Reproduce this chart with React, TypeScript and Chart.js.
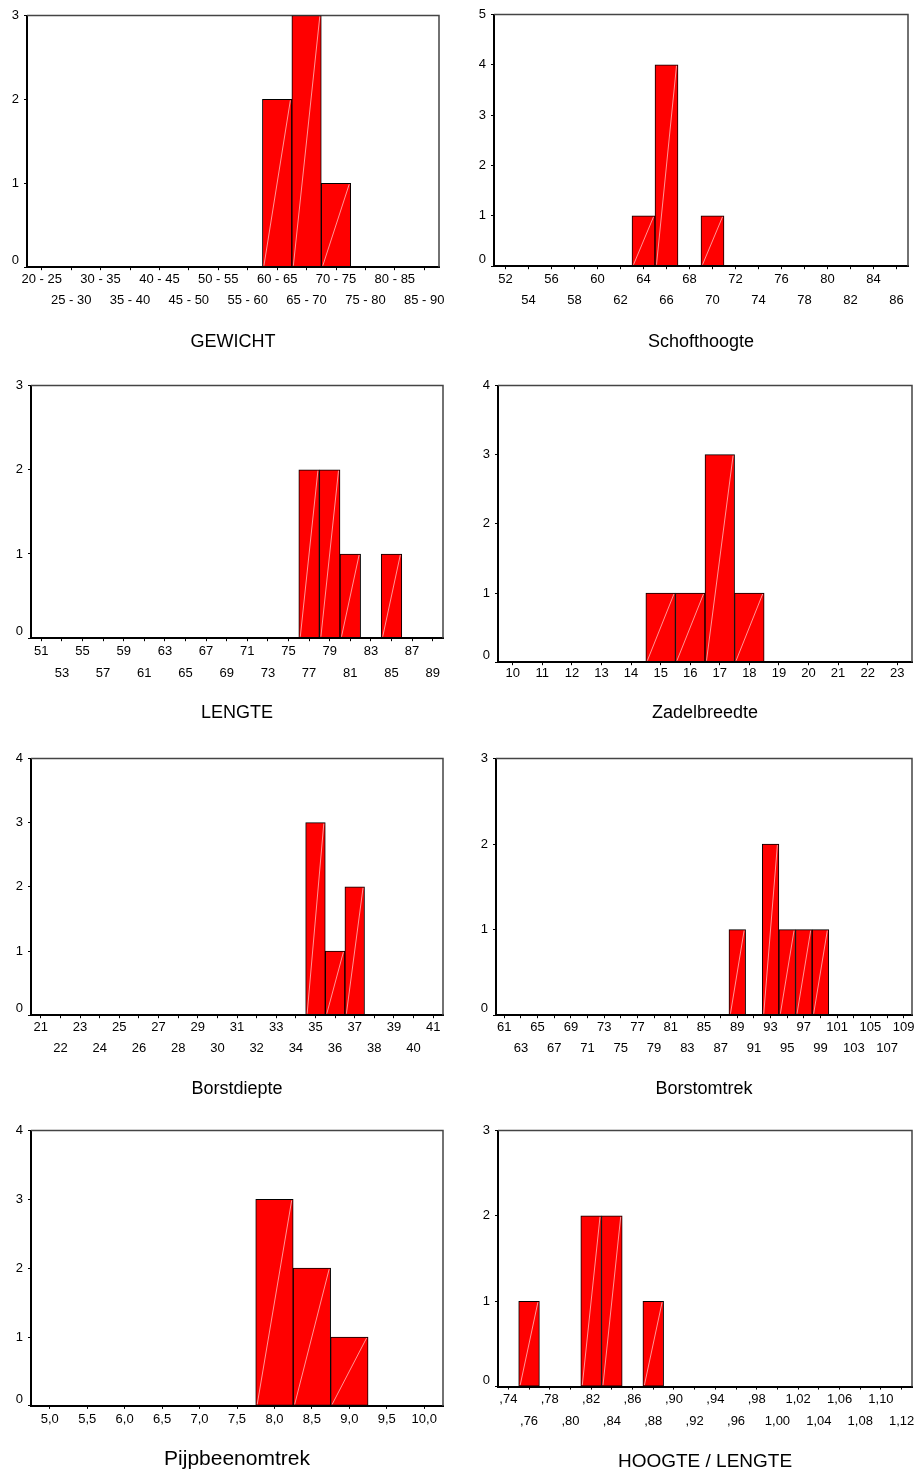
import React, { useEffect, useRef } from 'react';
import { Chart, registerables } from 'chart.js';

Chart.register(...registerables);
Chart.defaults.font.family = '"Liberation Sans", Arial, sans-serif';

// ---------- data ----------
const gewichtBins = ['20 - 25', '25 - 30', '30 - 35', '35 - 40', '40 - 45', '45 - 50', '50 - 55', '55 - 60', '60 - 65', '65 - 70', '70 - 75', '75 - 80', '80 - 85', '85 - 90'];
const gewichtCounts = [0, 0, 0, 0, 0, 0, 0, 0, 2, 3, 1, 0, 0, 0];

const schoftBins = ['52', '54', '56', '58', '60', '62', '64', '66', '68', '70', '72', '74', '76', '78', '80', '82', '84', '86'];
const schoftCounts = [0, 0, 0, 0, 0, 0, 1, 4, 0, 1, 0, 0, 0, 0, 0, 0, 0, 0];

const lengteBins = ['51', '53', '55', '57', '59', '61', '63', '65', '67', '69', '71', '73', '75', '77', '79', '81', '83', '85', '87', '89'];
const lengteCounts = [0, 0, 0, 0, 0, 0, 0, 0, 0, 0, 0, 0, 0, 2, 2, 1, 0, 1, 0, 0];

const zadelBins = ['10', '11', '12', '13', '14', '15', '16', '17', '18', '19', '20', '21', '22', '23'];
const zadelCounts = [0, 0, 0, 0, 0, 1, 1, 3, 1, 0, 0, 0, 0, 0];

const borstdiepteBins = ['21', '22', '23', '24', '25', '26', '27', '28', '29', '30', '31', '32', '33', '34', '35', '36', '37', '38', '39', '40', '41'];
const borstdiepteCounts = [0, 0, 0, 0, 0, 0, 0, 0, 0, 0, 0, 0, 0, 0, 3, 1, 2, 0, 0, 0, 0];

const borstomtrekBins = ['61', '63', '65', '67', '69', '71', '73', '75', '77', '79', '81', '83', '85', '87', '89', '91', '93', '95', '97', '99', '101', '103', '105', '107', '109'];
const borstomtrekCounts = [0, 0, 0, 0, 0, 0, 0, 0, 0, 0, 0, 0, 0, 0, 1, 0, 2, 1, 1, 1, 0, 0, 0, 0, 0];

const pijpBins = ['5,0', '5,5', '6,0', '6,5', '7,0', '7,5', '8,0', '8,5', '9,0', '9,5', '10,0'];
const pijpCounts = [0, 0, 0, 0, 0, 0, 3, 2, 1, 0, 0];

const hlBins = [',74', ',76', ',78', ',80', ',82', ',84', ',86', ',88', ',90', ',92', ',94', ',96', ',98', '1,00', '1,02', '1,04', '1,06', '1,08', '1,10', '1,12'];
const hlCounts = [0, 1, 0, 0, 2, 2, 0, 1, 0, 0, 0, 0, 0, 0, 0, 0, 0, 0, 0, 0];

const yMaxes = [3, 5, 3, 4, 4, 3, 4, 3];
const titles = ['GEWICHT', 'Schofthoogte', 'LENGTE', 'Zadelbreedte', 'Borstdiepte', 'Borstomtrek', 'Pijpbeenomtrek', 'HOOGTE / LENGTE'];

// ---------- layout (positions only) ----------
type Layout = { plot: [number, number, number, number]; stagger: boolean; xAxisH: number; tickPad: number; titleSize: number; titleY: number };
const layouts: Layout[] = [
  { plot: [27, 14, 439, 267], stagger: true, xAxisH: 42, tickPad: -1.75, titleSize: 18, titleY: 342 },
  { plot: [494, 13, 908, 266], stagger: true, xAxisH: 42, tickPad: -0.5, titleSize: 18, titleY: 342 },
  { plot: [31, 384, 443, 638], stagger: true, xAxisH: 42, tickPad: -0.25, titleSize: 18, titleY: 713 },
  { plot: [498, 384, 912, 662], stagger: false, xAxisH: 24, tickPad: -2.2, titleSize: 18, titleY: 713 },
  { plot: [31, 757, 443, 1015], stagger: true, xAxisH: 42, tickPad: -1.75, titleSize: 18, titleY: 1089 },
  { plot: [496, 757, 912, 1015], stagger: true, xAxisH: 42, tickPad: -1.75, titleSize: 18, titleY: 1089 },
  { plot: [31, 1129, 443, 1406], stagger: false, xAxisH: 24, tickPad: -0.5, titleSize: 21, titleY: 1459.5 },
  { plot: [498, 1129, 912, 1387], stagger: true, xAxisH: 42, tickPad: -0.75, titleSize: 19, titleY: 1462 },
];

const binsList = [gewichtBins, schoftBins, lengteBins, zadelBins, borstdiepteBins, borstomtrekBins, pijpBins, hlBins];
const countsList = [gewichtCounts, schoftCounts, lengteCounts, zadelCounts, borstdiepteCounts, borstomtrekCounts, pijpCounts, hlCounts];

const YW = 26; // y axis box width
const TP = 10; // top padding
const RP = 12; // right padding

const framePlugin = {
  id: 'frame',
  beforeDatasetsDraw(chart: any) {
    const { ctx, chartArea: a } = chart;
    ctx.save();
    ctx.strokeStyle = '#444';
    ctx.lineWidth = 1.5;
    ctx.beginPath();
    ctx.moveTo(a.left, a.top);
    ctx.lineTo(a.right, a.top);
    ctx.lineTo(a.right, a.bottom);
    ctx.stroke();
    ctx.restore();
  },
};

const diagPlugin = {
  id: 'diag',
  afterDatasetsDraw(chart: any) {
    const { ctx } = chart;
    const meta = chart.getDatasetMeta(0);
    const data = chart.data.datasets[0].data;
    ctx.save();
    ctx.strokeStyle = 'rgba(255,200,200,0.75)';
    ctx.lineWidth = 1;
    meta.data.forEach((el: any, i: number) => {
      if (data[i] == null) return;
      const p = el.getProps(['x', 'y', 'base', 'width'], true);
      ctx.beginPath();
      ctx.moveTo(p.x - p.width / 2 + 1.5, p.base - 1);
      ctx.lineTo(p.x + p.width / 2 - 1.5, p.y + 1);
      ctx.stroke();
    });
    ctx.restore();
  },
};

function Histogram({ idx }: { idx: number }) {
  const ref = useRef<HTMLCanvasElement | null>(null);
  const lay = layouts[idx];
  const [L, T, R, B] = lay.plot;
  const lineH = lay.titleSize * 1.2;
  const left = L - YW;
  const top = T - TP;
  const width = Math.round(R - L + YW + RP);
  const height = Math.round(lay.titleY + lineH / 2 - top);
  const padTop = lay.titleY - lineH / 2 - (B + lay.xAxisH);

  useEffect(() => {
    const bins = binsList[idx];
    const counts = countsList[idx];
    const chart = new Chart(ref.current as HTMLCanvasElement, {
      type: 'bar',
      data: {
        labels: bins,
        datasets: [
          {
            data: counts.map((c) => (c ? c : null)),
            backgroundColor: '#ff0000',
            borderColor: '#000000',
            borderWidth: 1,
            borderSkipped: false,
            barPercentage: 1,
            categoryPercentage: 1,
          } as any,
        ],
      },
      options: {
        animation: false,
        responsive: false,
        maintainAspectRatio: false,
        devicePixelRatio: 1,
        layout: { padding: { top: TP, right: RP, left: 0, bottom: 0 } },
        plugins: {
          legend: { display: false },
          tooltip: { enabled: false },
          title: {
            display: true,
            text: titles[idx],
            position: 'bottom',
            fullSize: false,
            align: 'center',
            color: '#000',
            font: { size: lay.titleSize, weight: 'normal', lineHeight: 1.2 },
            padding: { top: padTop, bottom: 0 },
          },
        },
        scales: {
          x: {
            type: 'category',
            offset: true,
            grid: { display: true, offset: false, drawOnChartArea: false, drawTicks: true, tickLength: 3, color: '#000' },
            border: { display: true, color: '#000', width: 2 },
            ticks: {
              autoSkip: false,
              maxRotation: 0,
              minRotation: 0,
              color: '#000',
              padding: lay.tickPad,
              font: { size: 13, lineHeight: 1.65 },
              callback: (_v: any, i: number) => (lay.stagger && i % 2 === 1 ? ['', bins[i]] : bins[i]),
            },
            afterFit: (s: any) => {
              s.height = lay.xAxisH;
            },
          },
          y: {
            min: 0,
            max: yMaxes[idx],
            grid: { display: true, drawOnChartArea: false, drawTicks: true, tickLength: 3, color: '#000' },
            border: { display: true, color: '#000', width: 2 },
            ticks: {
              stepSize: 1,
              color: '#000',
              padding: 5,
              font: { size: 13, lineHeight: 1 },
              callback: (v: any) => (v === 0 ? ['0', ''] : String(v)),
            },
            afterFit: (s: any) => {
              s.width = YW;
            },
          },
        },
      } as any,
      plugins: [framePlugin, diagPlugin],
    });
    return () => chart.destroy();
  }, [idx]);

  return (
    <canvas
      ref={ref}
      width={width}
      height={height}
      style={{ position: 'absolute', left, top, width, height }}
    />
  );
}

export default function App() {
  return (
    <div style={{ position: 'absolute', left: 0, top: 0, width: 916, height: 1474, background: '#fff', overflow: 'hidden' }}>
      {layouts.map((_, i) => (
        <Histogram key={i} idx={i} />
      ))}
    </div>
  );
}
